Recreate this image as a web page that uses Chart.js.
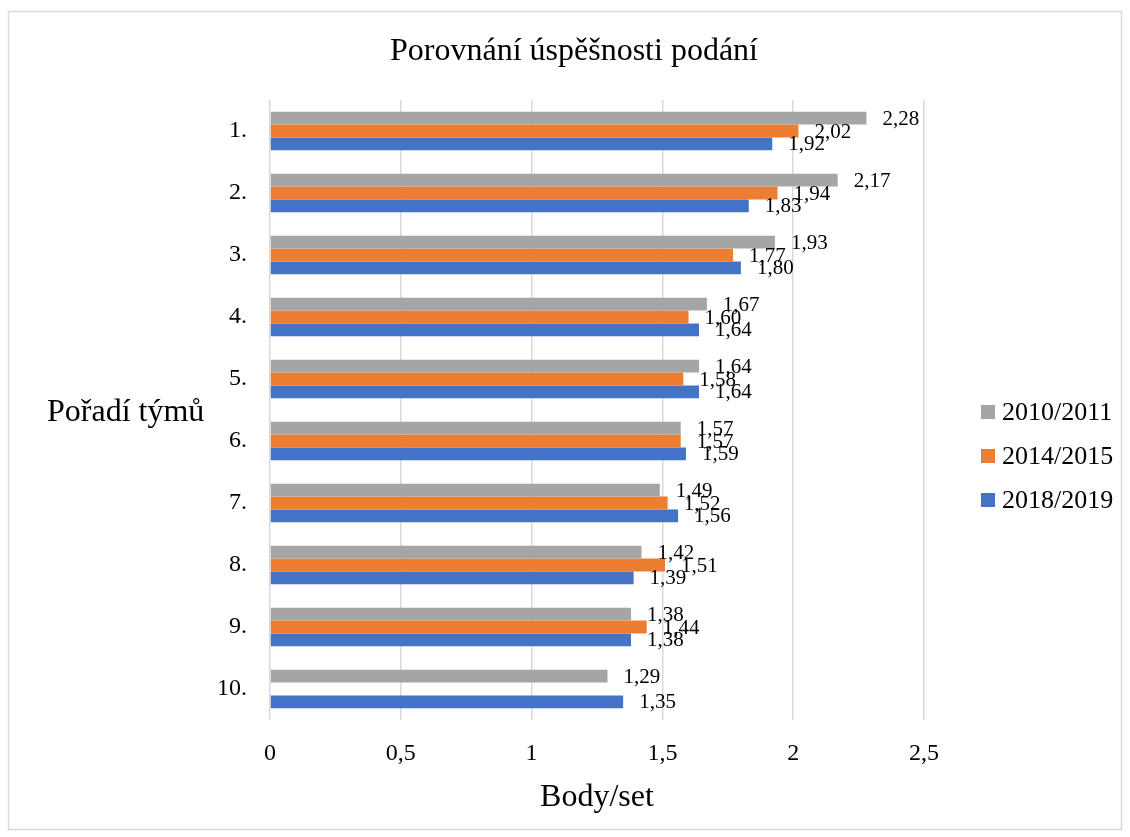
<!DOCTYPE html>
<html>
<head>
<meta charset="utf-8">
<script src="https://cdn.jsdelivr.net/npm/chart.js@4"></script>
<style>
  html, body { margin: 0; padding: 0; background: #fff; }
  #wrap { width: 1130px; height: 837px; }
</style>
</head>
<body>
<div id="wrap"><canvas id="myChart" width="1130" height="837"></canvas></div>
<script>
var SERIF = "'Liberation Serif', 'Times New Roman', serif";

// data
var categories = ["1.", "2.", "3.", "4.", "5.", "6.", "7.", "8.", "9.", "10."];
var s2010 = [2.28, 2.17, 1.93, 1.67, 1.64, 1.57, 1.49, 1.42, 1.38, 1.29];
var s2014 = [2.02, 1.94, 1.77, 1.60, 1.58, 1.57, 1.52, 1.51, 1.44, null];
var s2018 = [1.92, 1.83, 1.80, 1.64, 1.64, 1.59, 1.56, 1.39, 1.38, 1.35];
var xTicks = [0, 0.5, 1, 1.5, 2, 2.5];

function czNum(v, dec) {
  var s = dec == null ? String(v) : v.toFixed(dec);
  return s.replace('.', ',');
}

// frame, title, horizontal y title and legend on the right
var extras = {
  id: 'extras',
  beforeDraw: function(chart) {
    var c = chart.ctx;
    c.save();
    c.fillStyle = '#fff';
    c.fillRect(0, 0, chart.width, chart.height);
    c.strokeStyle = '#d9d9d9';
    c.lineWidth = 1.5;
    c.strokeRect(8.5, 11.5, 1113, 818);
    c.restore();
  },
  afterDraw: function(chart) {
    var c = chart.ctx, a = chart.chartArea;
    c.save();
    c.fillStyle = '#000';
    c.textBaseline = 'middle';

    c.font = '32px ' + SERIF;
    c.textAlign = 'center';
    c.fillText('Porovnání úspěšnosti podání', 574, 52);

    c.textAlign = 'left';
    c.fillText('Pořadí týmů', 47, (a.top + a.bottom) / 2 + 3);

    // legend
    c.font = '26px ' + SERIF;
    chart.data.datasets.forEach(function(ds, i) {
      var y = 412 + i * 44;
      c.fillStyle = ds.backgroundColor;
      c.fillRect(981, y - 7, 14, 14);
      c.fillStyle = '#000';
      c.fillText(ds.label, 1002, y + 1);
    });
    c.restore();
  }
};

// value labels at the bar ends
var barLabels = {
  id: 'barLabels',
  afterDatasetsDraw: function(chart) {
    var c = chart.ctx;
    c.save();
    c.fillStyle = '#000';
    c.font = '21px ' + SERIF;
    c.textAlign = 'left';
    c.textBaseline = 'middle';
    chart.data.datasets.forEach(function(ds, i) {
      chart.getDatasetMeta(i).data.forEach(function(el, j) {
        var v = ds.data[j];
        if (v == null) return;
        c.fillText(czNum(v, 2), el.x + 16, el.y + 1);
      });
    });
    c.restore();
  }
};

var ctx = document.getElementById('myChart').getContext('2d');
var chart = new Chart(ctx, {
  type: 'bar',
  data: {
    labels: categories,
    datasets: [
      { label: '2010/2011', data: s2010, backgroundColor: '#A5A5A5' },
      { label: '2014/2015', data: s2014, backgroundColor: '#ED7D31' },
      { label: '2018/2019', data: s2018, backgroundColor: '#4472C4' }
    ]
  },
  options: {
    indexAxis: 'y',
    responsive: false,
    animation: false,
    categoryPercentage: 0.62,
    barPercentage: 1,
    layout: { padding: { left: 18, right: 206, top: 100, bottom: 0 } },
    plugins: {
      legend: { display: false },
      tooltip: { enabled: false },
      title: { display: false }
    },
    scales: {
      x: {
        min: 0,
        max: 2.5,
        afterBuildTicks: function(scale) {
          scale.ticks = xTicks.map(function(v) { return { value: v }; });
        },
        afterFit: function(scale) { scale.height = 117; },
        grid: { color: '#d9d9d9', lineWidth: 1.5, drawTicks: false },
        border: { display: false },
        ticks: {
          color: '#000',
          padding: 19,
          font: { family: SERIF, size: 24 },
          callback: function(v) { return czNum(v); }
        },
        title: {
          display: true,
          text: 'Body/set',
          color: '#000',
          font: { family: SERIF, size: 32 },
          padding: { top: 0, bottom: 20 }
        }
      },
      y: {
        grid: { display: false, drawTicks: false },
        border: { display: false },
        ticks: {
          color: '#000',
          padding: 23,
          font: { family: SERIF, size: 24 }
        },
        afterFit: function(scale) { scale.width = 252; }
      }
    }
  },
  plugins: [extras, barLabels]
});
</script>
</body>
</html>
